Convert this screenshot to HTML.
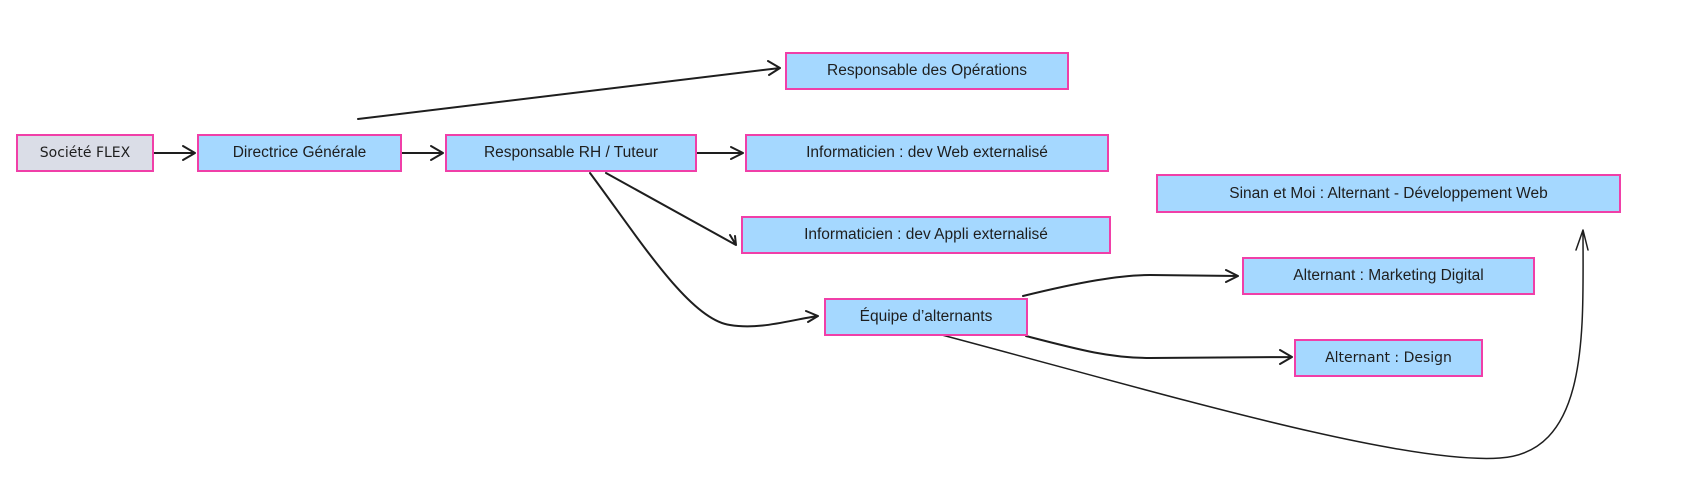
<!DOCTYPE html>
<html><head><meta charset="utf-8"><style>
body{margin:0;background:#fff;width:1698px;height:489px;overflow:hidden;position:relative;font-family:"Liberation Sans",sans-serif}
.b{position:absolute;box-sizing:border-box;border:2px solid #f03fa8;background:#a5d8ff;color:#1e1e1e;font-size:15.5px;display:flex;align-items:center;justify-content:center;white-space:nowrap}
svg{position:absolute;left:0;top:0}
</style></head><body>
<svg width="1698" height="489" fill="none" stroke="#1e1e1e" stroke-width="2" stroke-linecap="round" stroke-linejoin="round">
<path d="M154 153 L195 153 M183 146 L195 153 L183 160"/>
<path d="M402 153 L443 153 M431 146 L443 153 L431 160"/>
<path d="M697 153 L743 153 M731 147 L743 153 L731 159"/>
<path d="M358 119 L780 68 M768 61 L780 68 L769 75"/>
<path d="M606 173 L736 245 M730 235 L736 245 L735 236"/>
<path d="M590 173 C 640 240 690 320 730 325 C 760 330 790 320 818 316 M806 311 L818 316 L808 322"/>
<path d="M1023 296 C 1080 282 1120 275 1150 275 L1238 276 M1226 270 L1238 276 L1226 282"/>
<path d="M1026 336 C 1080 350 1110 358 1150 358 L1292 357 M1280 350 L1292 357 L1280 364"/>
<path stroke-width="1.5" d="M942 335 C 1150 390 1400 465 1500 458 C 1590 452 1583 330 1583 230 M1576 250 L1583 230 L1588 250"/>
</svg>
<div class="b" style="left:16px;top:134px;width:138px;height:38px;background:#dadde7;font-family:'DejaVu Sans',cursive;font-size:14px">Société FLEX</div>
<div class="b" style="left:197px;top:134px;width:205px;height:38px">Directrice Générale</div>
<div class="b" style="left:445px;top:134px;width:252px;height:38px">Responsable RH / Tuteur</div>
<div class="b" style="left:785px;top:52px;width:284px;height:38px">Responsable des Opérations</div>
<div class="b" style="left:745px;top:134px;width:364px;height:38px">Informaticien : dev Web externalisé</div>
<div class="b" style="left:741px;top:216px;width:370px;height:38px">Informaticien : dev Appli externalisé</div>
<div class="b" style="left:1156px;top:174px;width:465px;height:39px">Sinan et Moi : Alternant - Développement Web</div>
<div class="b" style="left:1242px;top:257px;width:293px;height:38px">Alternant : Marketing Digital</div>
<div class="b" style="left:824px;top:298px;width:204px;height:38px">Équipe d’alternants</div>
<div class="b" style="left:1294px;top:339px;width:189px;height:38px;font-family:'DejaVu Sans',cursive;font-size:14px">Alternant : Design</div>
</body></html>
